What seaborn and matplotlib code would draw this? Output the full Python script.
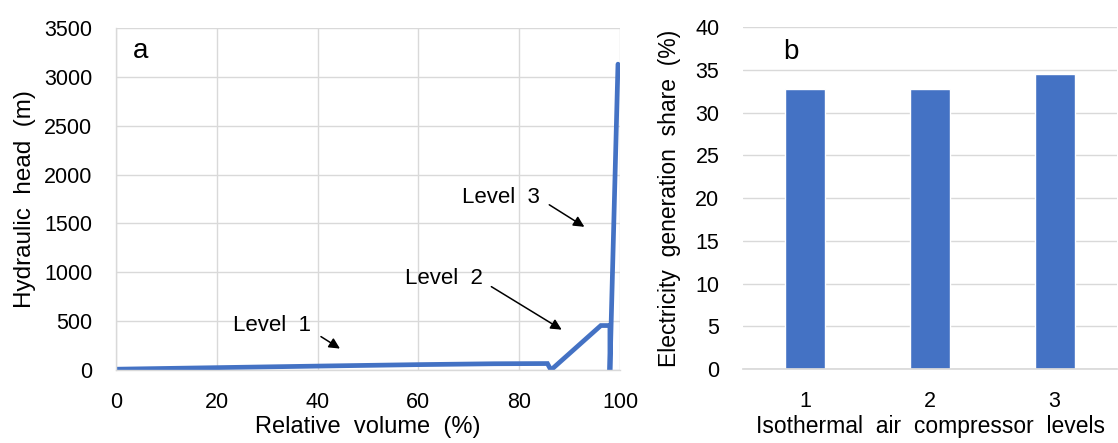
import matplotlib
matplotlib.use("Agg")
import matplotlib.pyplot as plt
import seaborn as sns
import pandas as pd

# panel a: hydraulic head vs relative volume
rel_volume = [0, 20, 40, 60, 75, 85.6, 86.3, 96.2, 98.0, 98.0, 99.6]
head_m = [8, 24, 40, 55, 64, 66, 0, 455, 455, 0, 3130]

# panel b: electricity generation share per compressor level
levels = ["1", "2", "3"]
share_pct = [32.8, 32.7, 34.5]

BLUE = "#4472C4"
GRID = "#d9d9d9"

sns.set_theme(style="white")
plt.rcParams["font.family"] = ["Liberation Sans", "DejaVu Sans"]
plt.rcParams["font.size"] = 15
plt.rcParams["text.color"] = "black"
plt.rcParams["axes.labelcolor"] = "black"
plt.rcParams["xtick.color"] = "black"
plt.rcParams["ytick.color"] = "black"

fig = plt.figure(figsize=(11.18, 4.43), dpi=100)
ax_a = fig.add_axes([116 / 1118, 1 - 370 / 443, (620 - 116) / 1118, (370 - 28) / 443])
ax_b = fig.add_axes([743 / 1118, 1 - 369 / 443, (1117 - 743) / 1118, (369 - 27) / 443])

# ---- panel a
line_df = pd.DataFrame({"x": rel_volume, "y": head_m})
sns.lineplot(data=line_df, x="x", y="y", sort=False, estimator=None,
             color=BLUE, lw=3.4, ax=ax_a, solid_joinstyle="miter")
ax_a.set_xlim(0, 100)
ax_a.set_ylim(0, 3500)
ax_a.set_xticks(range(0, 101, 20))
ax_a.set_yticks(range(0, 3501, 500))
ax_a.grid(True, color=GRID, lw=1)
ax_a.set_axisbelow(True)
for side in ["top", "right"]:
    ax_a.spines[side].set_visible(False)
for side in ["left", "bottom"]:
    ax_a.spines[side].set_color(GRID)
    ax_a.spines[side].set_linewidth(1)
ax_a.tick_params(axis="x", length=0, labelsize=15.5, pad=16)
ax_a.tick_params(axis="y", length=0, labelsize=15.5, pad=17)
ax_a.set_xlabel("Relative  volume  (%)", fontsize=17, labelpad=2)
ax_a.set_ylabel("Hydraulic  head  (m)", fontsize=17.5, labelpad=6)
ax_a.text(0.034, 0.912, "a", transform=ax_a.transAxes, fontsize=20, va="baseline")

arrow = dict(arrowstyle="-|>", color="black", lw=1.1, mutation_scale=16)
ax_a.annotate("", xy=(44.9, 204), xytext=(40.2, 357), arrowprops=arrow)
ax_a.text(31, 460, "Level  1", ha="center", va="center", fontsize=16)
ax_a.annotate("", xy=(88.9, 398), xytext=(74, 868), arrowprops=arrow)
ax_a.text(65, 940, "Level  2", ha="center", va="center", fontsize=16)
ax_a.annotate("", xy=(93.4, 1450), xytext=(85.5, 1706), arrowprops=arrow)
ax_a.text(76.3, 1767, "Level  3", ha="center", va="center", fontsize=16)

# ---- panel b
bar_df = pd.DataFrame({"level": levels, "share": share_pct})
sns.barplot(data=bar_df, x="level", y="share", color=BLUE, saturation=1,
            width=0.32, ax=ax_b)
ax_b.set_ylim(0, 40)
ax_b.set_yticks(range(0, 41, 5))
ax_b.grid(True, axis="y", color=GRID, lw=1)
ax_b.set_axisbelow(True)
for side in ["top", "right", "left"]:
    ax_b.spines[side].set_visible(False)
ax_b.spines["bottom"].set_color(GRID)
ax_b.tick_params(axis="x", length=0, labelsize=15.5, pad=16)
ax_b.tick_params(axis="y", length=0, labelsize=15.5, pad=17)
ax_b.set_xlabel("Isothermal  air  compressor  levels", fontsize=16.5, labelpad=2)
ax_b.set_ylabel("Electricity  generation  share  (%)", fontsize=16.5, labelpad=10)
ax_b.text(0.107, 0.906, "b", transform=ax_b.transAxes, fontsize=20, va="baseline")

fig.savefig("out.png", dpi=100)
